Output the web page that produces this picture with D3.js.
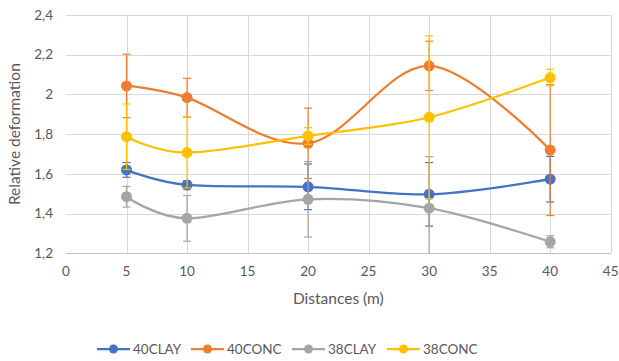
<!DOCTYPE html>
<html>
<head>
<meta charset="utf-8">
<script src="https://cdn.jsdelivr.net/npm/d3@7"></script>
<style>
  body { margin: 0; background: #fff; }
  text { font-family: Lato, "Open Sans", sans-serif; fill: #595959; }
</style>
</head>
<body>
<svg id="chart" width="619" height="361"></svg>
<script>
// data
const distances = [5, 10, 20, 30, 40]
const seriesNames = ["40CLAY", "40CONC", "38CLAY", "38CONC"]
const clay40 = [1.62, 1.544, 1.535, 1.497, 1.573]
const conc40 = [2.043, 1.984, 1.754, 2.144, 1.72]
const clay38 = [1.485, 1.376, 1.472, 1.427, 1.258]
const conc38 = [1.787, 1.707, 1.791, 1.885, 2.085]
// error bar half-widths
const clay40Err = [0.037, 0.02, 0.115, 0.16, 0.115]
const conc40Err = [0.16, 0.097, 0.177, 0.124, 0.33]
const clay38Err = [0.052, 0.115, 0.19, 0.26, 0.03]
const conc38Err = [0.165, 0.178, 0.042, 0.41, 0.042]
const xTicks = [0, 5, 10, 15, 20, 25, 30, 35, 40, 45]
const yTicks = [1.2, 1.4, 1.6, 1.8, 2.0, 2.2, 2.4]
const colors = ["#4472C4", "#ED7D31", "#A5A5A5", "#FFC000"]

const series = [clay40, conc40, clay38, conc38].map(function(vals, i){
  const errs = [clay40Err, conc40Err, clay38Err, conc38Err][i]
  return {name: seriesNames[i], color: colors[i],
    points: vals.map(function(v, j){ return {x: distances[j], y: v, e: errs[j]} })}
})

const margin = {top: 15, right: 8, bottom: 108, left: 66}
const width = 619, height = 361
const svg = d3.select("#chart")

let x = d3.scaleLinear().domain([0, 45]).range([margin.left, 610.7])
let y = d3.scaleLinear().domain([1.2, 2.4]).range([253.3, margin.top])

const fmt = function(d){ return d3.format(".1f")(d).replace(".0", "").replace(".", ",") }

// gridlines
svg.append("g").selectAll("line").data(yTicks.slice(1)).enter().append("line")
  .attr("x1", x(0)).attr("x2", x(45))
  .attr("y1", d => Math.round(y(d)) + 0.5).attr("y2", d => Math.round(y(d)) + 0.5)
  .attr("stroke", "#d9d9d9").attr("stroke-width", 1)
svg.append("g").selectAll("line").data(xTicks.slice(1)).enter().append("line")
  .attr("x1", d => Math.round(x(d)) + 0.5).attr("x2", d => Math.round(x(d)) + 0.5)
  .attr("y1", y(1.2)).attr("y2", y(2.4))
  .attr("stroke", "#d9d9d9").attr("stroke-width", 1)
// bottom axis line
svg.append("line")
  .attr("x1", x(0)).attr("x2", x(45))
  .attr("y1", Math.round(y(1.2)) + 0.5).attr("y2", Math.round(y(1.2)) + 0.5)
  .attr("stroke", "#bfbfbf")

// tick labels
svg.append("g").selectAll("text").data(yTicks).enter().append("text")
  .attr("x", 53).attr("y", d => y(d)).attr("dy", "0.35em")
  .attr("text-anchor", "end").style("font-size", "13.5px")
  .text(fmt)
svg.append("g").selectAll("text").data(xTicks).enter().append("text")
  .attr("x", d => x(d)).attr("y", 276)
  .attr("text-anchor", "middle").style("font-size", "13.5px")
  .text(d => d)

// axis titles
svg.append("text")
  .attr("transform", "translate(20," + y(1.8) + ") rotate(-90)")
  .attr("text-anchor", "middle").style("font-size", "15.5px")
  .text("Relative deformation")
svg.append("text")
  .attr("x", (x(0) + x(45)) / 2).attr("y", 304)
  .attr("text-anchor", "middle").style("font-size", "15.5px")
  .text("Distances (m)")

const line = d3.line()
  .x(d => x(d.x)).y(d => y(d.y))
  .curve(d3.curveCardinal.tension(0))

const clipTop = y(2.4), clipBottom = y(1.2)

series.forEach(function(s){
  let g = svg.append("g")
  // error bars
  let eb = g.selectAll(".eb").data(s.points).enter().append("g")
  eb.append("line")
    .attr("x1", d => x(d.x)).attr("x2", d => x(d.x))
    .attr("y1", d => Math.max(clipTop, y(d.y + d.e)))
    .attr("y2", d => Math.min(clipBottom, y(d.y - d.e)))
    .attr("stroke", s.color).attr("stroke-width", 1.2)
  eb.filter(d => y(d.y + d.e) >= clipTop).append("line")
    .attr("x1", d => x(d.x) - 4).attr("x2", d => x(d.x) + 4)
    .attr("y1", d => y(d.y + d.e)).attr("y2", d => y(d.y + d.e))
    .attr("stroke", s.color).attr("stroke-width", 1.2)
  eb.filter(d => y(d.y - d.e) <= clipBottom).append("line")
    .attr("x1", d => x(d.x) - 4).attr("x2", d => x(d.x) + 4)
    .attr("y1", d => y(d.y - d.e)).attr("y2", d => y(d.y - d.e))
    .attr("stroke", s.color).attr("stroke-width", 1.2)
  // smoothed line
  g.append("path").datum(s.points)
    .attr("d", line).attr("fill", "none")
    .attr("stroke", s.color).attr("stroke-width", 2.25)
  // markers
  g.selectAll("circle").data(s.points).enter().append("circle")
    .attr("cx", d => x(d.x)).attr("cy", d => y(d.y))
    .attr("r", 5.5).attr("fill", s.color)
})

// legend
const legendX = [97, 191, 292, 387]
let lg = svg.append("g").selectAll("g").data(series).enter().append("g")
  .attr("transform", (d, i) => "translate(" + legendX[i] + ",349)")
lg.append("line").attr("x1", 0).attr("x2", 33).attr("y1", 0).attr("y2", 0)
  .attr("stroke", d => d.color).attr("stroke-width", 2.25)
lg.append("circle").attr("cx", 16.5).attr("cy", 0).attr("r", 4.5)
  .attr("fill", d => d.color)
lg.append("text").attr("x", 36).attr("y", 0).attr("dy", "0.35em")
  .style("font-size", "13.5px").text(d => d.name)
</script>
</body>
</html>
